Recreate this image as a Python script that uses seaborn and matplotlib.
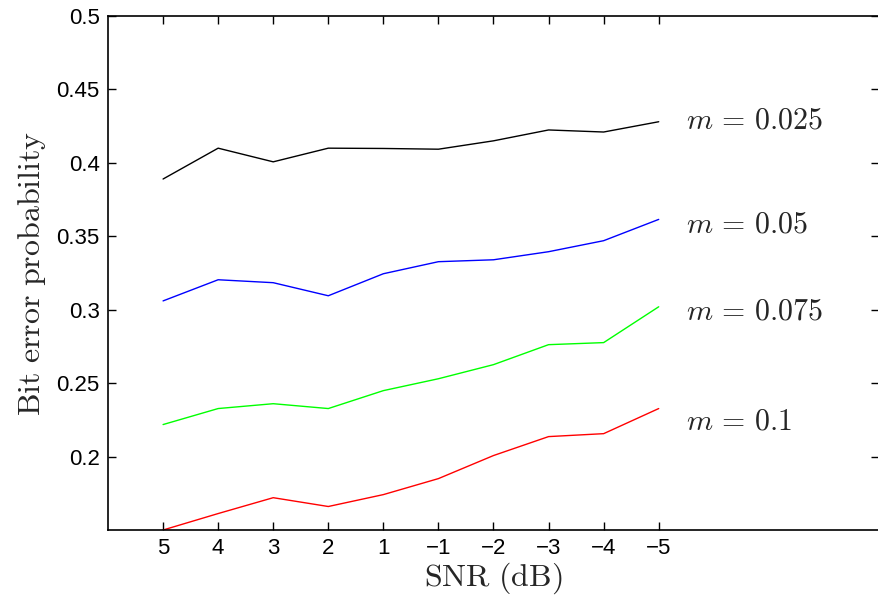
import matplotlib
matplotlib.use("Agg")
import matplotlib.pyplot as plt
import seaborn as sns
import pandas as pd

snr_labels = ["5", "4", "3", "2", "1", "\u22121", "\u22122", "\u22123", "\u22124", "\u22125"]
m_labels = ["m = 0.025", "m = 0.05", "m = 0.075", "m = 0.1"]
ber_m0025 = [0.389, 0.410, 0.4007, 0.410, 0.4098, 0.4093, 0.415, 0.4224, 0.421, 0.428]
ber_m005 = [0.306, 0.3204, 0.3184, 0.3095, 0.3245, 0.3327, 0.334, 0.3395, 0.347, 0.3615]
ber_m0075 = [0.2218, 0.2327, 0.236, 0.2327, 0.2449, 0.253, 0.2626, 0.2762, 0.2776, 0.302]
ber_m01 = [0.150, 0.1612, 0.172, 0.166, 0.1741, 0.185, 0.2007, 0.2136, 0.2156, 0.2327]
series = [ber_m0025, ber_m005, ber_m0075, ber_m01]
colors = ["#000000", "#0000ff", "#00ff00", "#ff0000"]
label_y = [0.4286, 0.3578, 0.2986, 0.2238]

rows = []
for lab, vals in zip(m_labels, series):
    for i, v in enumerate(vals):
        rows.append({"pos": i + 1, "ber": v, "m": lab})
df = pd.DataFrame(rows)

sns.set_style("ticks")
plt.rcParams["font.family"] = ["Liberation Sans", "DejaVu Sans"]
plt.rcParams["mathtext.fontset"] = "cm"

fig = plt.figure(figsize=(8.79, 6.0), dpi=100)
ax = fig.add_axes([108 / 879, 70 / 600, 771 / 879, 514 / 600])
sns.lineplot(data=df, x="pos", y="ber", hue="m", palette=colors, ax=ax,
             legend=False, linewidth=1.0)

ax.set_xlim(0, 14)
ax.set_ylim(0.15, 0.5)
ax.set_xticks(range(1, 11))
ax.set_xticklabels(snr_labels)
ax.set_yticks([0.2, 0.25, 0.3, 0.35, 0.4, 0.45, 0.5])
ax.set_yticklabels(["0.2", "0.25", "0.3", "0.35", "0.4", "0.45", "0.5"])
ax.tick_params(direction="in", top=True, right=True, length=6, width=1,
               labelsize=16, colors="black", pad=6)
for s in ax.spines.values():
    s.set_linewidth(1.2)
    s.set_color("black")

ax.set_xlabel(r"$\mathrm{SNR\ (dB)}$", fontsize=23, labelpad=1)
ax.set_ylabel(r"$\mathrm{Bit\ error\ probability}$", fontsize=23, labelpad=6)

for lab, y in zip(m_labels, label_y):
    val = lab.split("= ")[1]
    ax.text(10.5, y, r"$m\,=\,%s$" % val, fontsize=21.5, va="center", ha="left")

fig.savefig("out.png", dpi=100)
